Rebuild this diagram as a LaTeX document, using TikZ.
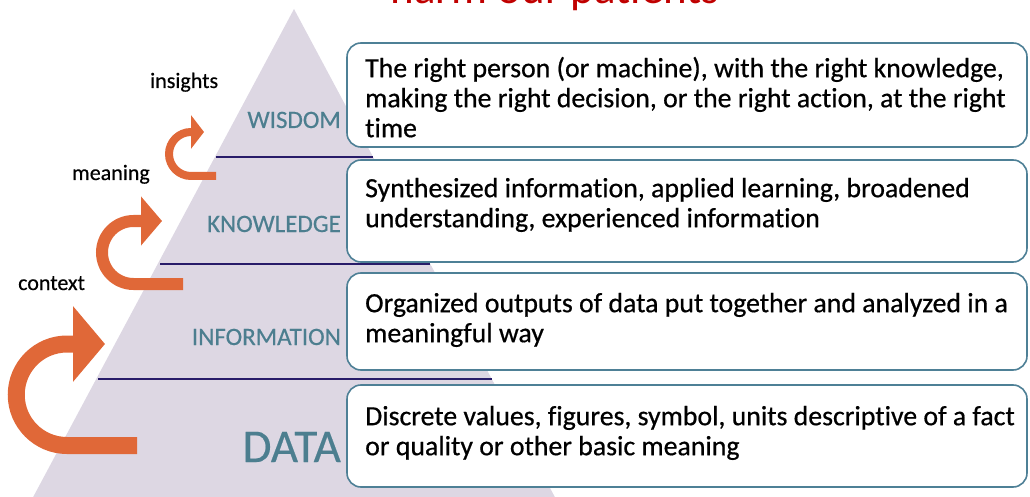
\documentclass[tikz,border=0pt]{standalone}
\usepackage{fontspec}
\setmainfont{Carlito}[Ligatures=NoCommon]
\newfontfamily\descfont{Carlito}[Ligatures=NoCommon, FakeBold=0.6]
\newfontfamily\notefont{Carlito}[Ligatures=NoCommon, FakeBold=0.4]
\usetikzlibrary{arrows.meta}
\definecolor{pyrfill}{RGB}{221,215,227}
\definecolor{levelteal}{RGB}{76,126,143}
\definecolor{boxedge}{RGB}{78,128,150}
\definecolor{divline}{RGB}{40,28,105}
\definecolor{arroworange}{RGB}{224,104,56}
\definecolor{titlered}{RGB}{192,0,0}
\begin{document}
\begin{tikzpicture}[x=1pt,y=1pt,
  level/.style={text=levelteal, anchor=base east, inner sep=0, font=\notefont\fontsize{25}{30}\selectfont},
  note/.style={anchor=base west, inner sep=0, font=\notefont\fontsize{22}{26}\selectfont},
  desc/.style={anchor=north west, inner sep=0, align=left, font=\descfont\fontsize{27.8}{30}\selectfont},
  descbox/.style={draw=boxedge, line width=1.6pt, fill=white, rounded corners=14pt},
  uturn/.style={draw=arroworange}]
\useasboundingbox (0,0) rectangle (1030,496);
\clip (0,0) rectangle (1030,496);
% title, cut off at the top
\node (title) [anchor=base, inner sep=0, text=titlered, font=\fontsize{45}{50}\selectfont] at (555,492.5) {harm our patients};
% pyramid and its layers
\fill [pyrfill] (294,487) -- (23,-20) -- (565,-20) -- cycle;
\draw [divline, line width=1.8pt] (216,339) -- (373,339);
\draw [divline, line width=1.8pt] (160,232) -- (430,232);
\draw [divline, line width=1.8pt] (98,117) -- (492,117);
\node (wisdom) [level] at (341,368) {WISDOM};
\node (knowledge) [level] at (341,264) {KNOWLEDGE};
\node (information) [level] at (341,151) {INFORMATION};
\node (data) [level, font=\notefont\fontsize{47}{50}\selectfont] at (341,34) {DATA};
% turning arrows
\draw [uturn, line width=8pt, -{Triangle[length=13pt,width=33pt]}] (216,320) -- (191,320) arc [start angle=270, end angle=90, radius=22] -- (204,364);
\draw [uturn, line width=12pt, -{Triangle[length=21pt,width=48pt]}] (183,212) -- (133.5,212) arc [start angle=270, end angle=90, radius=31.5] -- (162,275);
\draw [uturn, line width=17pt, -{Triangle[length=32pt,width=74pt]}] (137,50.5) -- (67,50.5) arc [start angle=270, end angle=90, radius=50.75] -- (105,152);
\node (insights) [note] at (150,408) {insights};
\node (meaning) [note] at (72,316) {meaning};
\node (context) [note] at (18,206) {context};
% description boxes
\draw [descbox] (347,453) rectangle (1027,349);
\draw [descbox] (347,336) rectangle (1027,234);
\draw [descbox] (347,223) rectangle (1027,126);
\draw [descbox] (347,111) rectangle (1027,9);
\node (wisdomtext) [desc] at (365,440) {\strut The right person (or machine), with the right knowledge,\\making the right decision, or the right action, at the right\\time};
\node (knowledgetext) [desc] at (365,320) {\strut Synthesized information, applied learning, broadened\\understanding, experienced information};
\node (informationtext) [desc] at (365,205) {\strut Organized outputs of data put together and analyzed in a\\meaningful way};
\node (datatext) [desc] at (365,92) {\strut Discrete values, figures, symbol, units descriptive of a fact\\or quality or other basic meaning};
\end{tikzpicture}
\end{document}
